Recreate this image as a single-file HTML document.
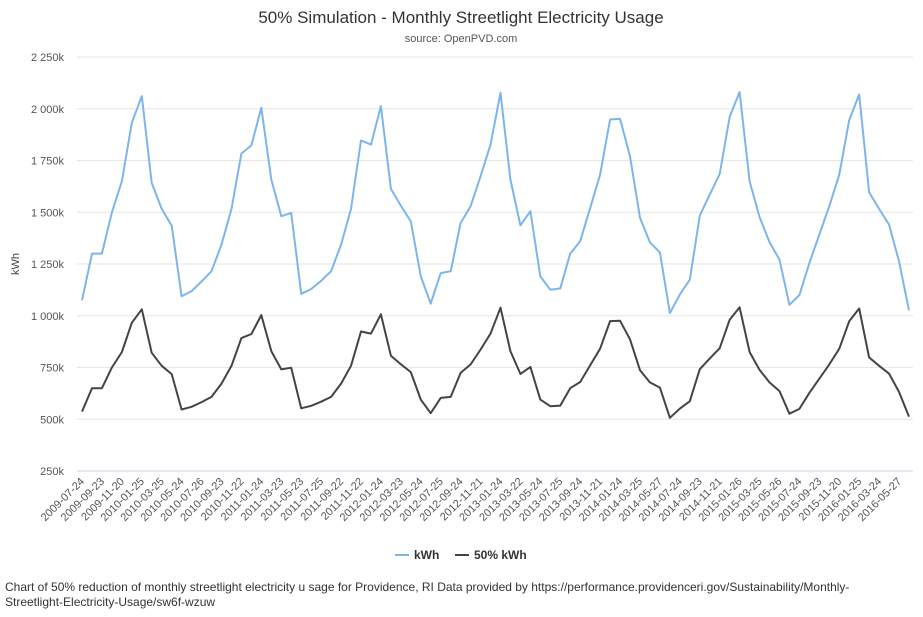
<!DOCTYPE html>
<html><head><meta charset="utf-8"><style>
body{margin:0;background:#fff;font-family:"Liberation Sans",sans-serif}
svg text{font-family:"Liberation Sans",sans-serif}
</style></head><body>
<svg id="chart" width="923" height="612" xmlns="http://www.w3.org/2000/svg">
<text x="461" y="23" text-anchor="middle" font-size="17" fill="#333">50% Simulation - Monthly Streetlight Electricity Usage</text>
<text x="461" y="42" text-anchor="middle" font-size="11" fill="#555">source: OpenPVD.com</text>
<g id="grid"></g>
<g id="ylabels"></g>
<text transform="translate(19,264) rotate(-90)" text-anchor="middle" font-size="11" fill="#444">kWh</text>
<g id="xlabels"></g>
<g id="series"></g>
<g>
<g><line x1="395" y1="555" x2="409" y2="555" stroke="#7cb5ec" stroke-width="2"/><text x="414" y="559" font-size="12" font-weight="bold" fill="#333">kWh</text></g>
<g><line x1="455" y1="555" x2="469" y2="555" stroke="#434348" stroke-width="2"/><text x="474" y="559" font-size="12" font-weight="bold" fill="#333">50% kWh</text></g>
</g>
<text x="5" y="591" font-size="12" fill="#333">Chart of 50% reduction of monthly streetlight electricity u sage for Providence, RI Data provided by https://performance.providenceri.gov/Sustainability/Monthly-</text>
<text x="5" y="606" font-size="12" fill="#333">Streetlight-Electricity-Usage/sw6f-wzuw</text>
</svg>
<script>
const tickLabels=["2009-07-24","2009-09-23","2009-11-20","2010-01-25","2010-03-25","2010-05-24","2010-07-26","2010-09-23","2010-11-22","2011-01-24","2011-03-23","2011-05-23","2011-07-25","2011-09-22","2011-11-22","2012-01-24","2012-03-23","2012-05-24","2012-07-25","2012-09-24","2012-11-21","2013-01-24","2013-03-22","2013-05-24","2013-07-25","2013-09-24","2013-11-21","2014-01-24","2014-03-25","2014-05-27","2014-07-24","2014-09-23","2014-11-21","2015-01-26","2015-03-25","2015-05-26","2015-07-24","2015-09-23","2015-11-20","2016-01-25","2016-03-24","2016-05-27"];
const yTicks=[250,500,750,1000,1250,1500,1750,2000,2250];
const yTickLabels=["250k","500k","750k","1 000k","1 250k","1 500k","1 750k","2 000k","2 250k"];
const kwh=[1074,1300,1300,1500,1650,1932,2061,1642,1516,1435,1094,1119,1166,1215,1344,1516,1784,1823,2005,1658,1481,1497,1106,1129,1169,1215,1344,1516,1847,1827,2013,1613,1532,1456,1190,1058,1206,1215,1448,1529,1674,1827,2077,1658,1437,1505,1190,1126,1132,1300,1360,1521,1682,1948,1952,1771,1473,1355,1306,1013,1102,1174,1484,1585,1685,1961,2081,1650,1477,1356,1271,1053,1100,1255,1392,1529,1682,1945,2069,1597,1516,1440,1263,1026];
const kwh50=[537,650,650,750,825,966,1031,821,758,718,547,560,583,608,672,758,892,912,1003,829,741,749,553,565,585,608,672,758,924,914,1007,807,766,728,595,529,603,608,724,765,837,914,1039,829,719,753,595,563,566,650,680,761,841,974,976,886,737,678,653,507,551,587,742,793,843,981,1041,825,739,678,636,527,550,628,696,765,841,973,1035,799,758,720,632,513];
const NS="http://www.w3.org/2000/svg";
const x0=82,x1=909,yTop=57,yBot=471;
function xs(i){return x0+(x1-x0)*i/(kwh.length-1);}
function ys(v){return yBot-(v-250)/(2250-250)*(yBot-yTop);}
const grid=document.getElementById('grid'),yl=document.getElementById('ylabels');
yTicks.forEach((t,k)=>{
 const l=document.createElementNS(NS,'line');
 l.setAttribute('x1',77);l.setAttribute('x2',913);l.setAttribute('y1',ys(t));l.setAttribute('y2',ys(t));
 l.setAttribute('stroke',k===0?'#ccd6eb':'#e6e6e6');l.setAttribute('stroke-width',1);
 
 
 grid.appendChild(l);
 const tx=document.createElementNS(NS,'text');
 tx.setAttribute('x',64);tx.setAttribute('y',ys(t)+4);tx.setAttribute('text-anchor','end');
 tx.setAttribute('font-size','11');tx.setAttribute('fill','#555');tx.textContent=yTickLabels[k];
 
 
 yl.appendChild(tx);
});
const xl=document.getElementById('xlabels');
tickLabels.forEach((s,k)=>{
 const x=xs(k*2);
 const tx=document.createElementNS(NS,'text');
 tx.setAttribute('transform','translate('+(x+3)+',482) rotate(-45)');
 tx.setAttribute('text-anchor','end');tx.setAttribute('font-size','11');tx.setAttribute('fill','#555');
 tx.textContent=s;
 
 
 xl.appendChild(tx);
});
const sg=document.getElementById('series');
[[kwh,'#7cb5ec','kwh-line'],[kwh50,'#434348','50-kwh-line']].forEach(([d,c,n])=>{
 const p=document.createElementNS(NS,'path');
 p.setAttribute('d',d.map((v,i)=>(i?'L':'M')+xs(i).toFixed(1)+' '+ys(v).toFixed(1)).join(''));
 p.setAttribute('fill','none');p.setAttribute('stroke',c);p.setAttribute('stroke-width',2);
 p.setAttribute('stroke-linejoin','round');
 
 
 sg.appendChild(p);
});
</script>
</body></html>
